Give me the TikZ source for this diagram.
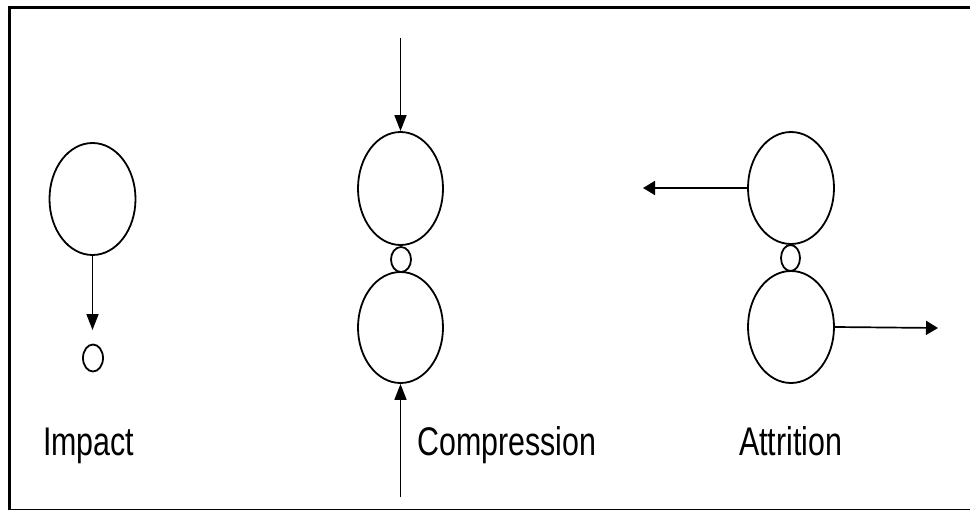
\documentclass[tikz,border=0pt]{standalone}
\usepackage{fontspec}
\setmainfont{Liberation Sans}
\newfontfamily\labelfont[FakeStretch=0.76]{Liberation Sans}
\usetikzlibrary{shapes.geometric,arrows.meta}

\tikzset{
  grain/.style={ellipse, draw, line width=1.8pt, inner sep=0pt,
                minimum width=#1},
  bigpart/.style={grain=86pt, minimum height=112pt},
  fine/.style={grain=20pt, minimum height=26pt},
  vforce/.style={line width=1.7pt, -{Triangle[length=16pt,width=12pt]}},
  hforce/.style={line width=1.7pt, -{Triangle[length=12pt,width=14pt]}},
  caption/.style={anchor=base west, inner sep=0pt,
                  font=\labelfont\fontsize{40}{44}\selectfont}
}

\begin{document}
\begin{tikzpicture}[x=1pt, y=-1pt]
  \useasboundingbox (0,0) rectangle (970,519);

  % frame
  \draw[line width=3pt] (8,7.5) -- (970,7.5);
  \draw[line width=3pt] (9.5,6) -- (9.5,510);
  \draw[line width=1.8pt] (8,509.5) -- (970,509.5);

  % impact
  \node[bigpart] (imp) at (92.5,199) {};
  \node[grain=20pt, minimum height=27pt] (impfrag) at (93,358) {};
  \coordinate (imptip) at (92.5,330);
  \draw[vforce] (imp.south) -- (imptip);
  \node[caption] (implabel) at (43,455) {Impact};

  % compression
  \node[bigpart, minimum width=85pt, minimum height=113pt] (ctop) at (400.5,188.5) {};
  \node[fine, minimum height=25pt] (cfrag) at (401,259.5) {};
  \node[bigpart, minimum width=85pt, minimum height=111pt] (cbot) at (400.5,327.5) {};
  \coordinate (cin) at (400.5,38);
  \coordinate (cout) at (400.5,497);
  \draw[vforce] (cin) -- (ctop.north);
  \draw[vforce] (cout) -- (cbot.south);
  \node[caption] (complabel) at (417,455) {Compression};

  % attrition
  \node[bigpart] (atop) at (791,188) {};
  \node[grain=19pt, minimum height=26pt] (afrag) at (790.5,258) {};
  \node[bigpart] (abot) at (791,327) {};
  \coordinate (aleft) at (643,188);
  \coordinate (aright) at (938,328);
  \draw[hforce] (atop.west) -- (aleft);
  \draw[hforce] (abot.east) -- (aright);
  \node[caption] (attlabel) at (739,455) {Attrition};
\end{tikzpicture}
\end{document}
